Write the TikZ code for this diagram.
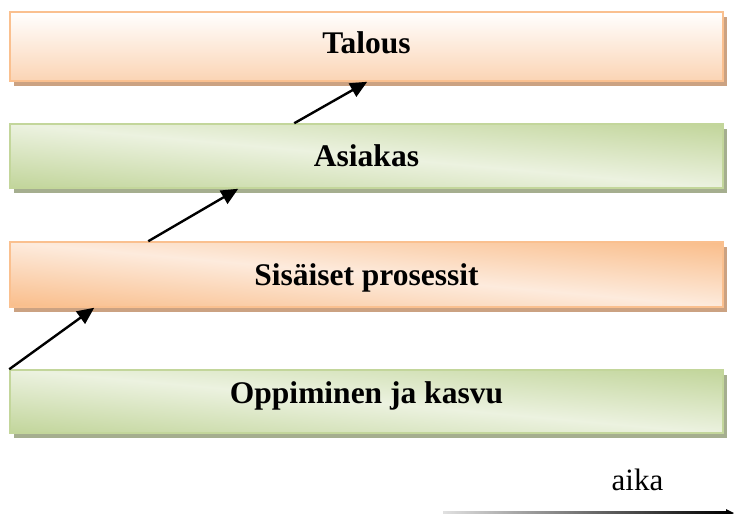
\documentclass[tikz,border=0pt]{standalone}
\usepackage{fontspec}
\setmainfont{Liberation Serif}
\usetikzlibrary{calc,arrows.meta,shadows}

% Palette
\definecolor{peachEdge}{HTML}{FAC08F}
\definecolor{peachDark}{HTML}{F9BC88}
\definecolor{peachLight}{HTML}{FDEBDD}
\definecolor{peachSoft}{HTML}{FBD4B4}
\definecolor{peachShadow}{HTML}{CBA282}
\definecolor{leafEdge}{HTML}{C3D69B}
\definecolor{leafDark}{HTML}{C0D498}
\definecolor{leafLight}{HTML}{ECF2E0}
\definecolor{leafShadow}{HTML}{A5AE8F}

\tikzset{
  layer/.style={draw, line width=1.5pt, minimum width=713pt, inner sep=0pt},
  peachbox/.style={layer, draw=peachEdge,
    drop shadow={shadow xshift=4pt, shadow yshift=-5pt, fill=peachShadow, opacity=1}},
  leafbox/.style={layer, draw=leafEdge,
    drop shadow={shadow xshift=4pt, shadow yshift=-5pt, fill=leafShadow, opacity=1}},
  % light streak running from the upper left corner to the lower right corner
  band/.style 2 args={path picture={
    \begin{scope}[transform canvas={rotate around={-5.2:(path picture bounding box.center)}}]
      \shade[top color=#1, bottom color=#1, middle color=#2]
        ($(path picture bounding box.center)+(-430,-66)$) rectangle
        ($(path picture bounding box.center)+(430,66)$);
    \end{scope}}},
  peachband/.style={peachbox, band={peachDark}{peachLight}},
  leafband/.style={leafbox, band={leafDark}{leafLight}},
  lbl/.style={anchor=base, font=\fontsize{31.5}{36}\selectfont\bfseries},
  step arrow/.style={line width=2.4pt, -{Triangle[length=17pt,width=15pt]}},
}

\begin{document}
\begin{tikzpicture}[x=1pt,y=-1pt]
  \useasboundingbox (0,0) rectangle (734,514);

  % The four perspective layers, bottom to top
  \node[peachbox, top color=white, bottom color=peachSoft, minimum height=69pt]
    (tal) at (366.5,46.5) {};
  \node[leafband, minimum height=64pt] (asi) at (366.5,156) {};
  \node[peachband, minimum height=65pt] (sis) at (366.5,274.5) {};
  \node[leafband, minimum height=63pt] (opp) at (366.5,401.5) {};

  \node[lbl] (tTal) at (366.5,53) {Talous};
  \node[lbl] (tAsi) at (366.5,166) {Asiakas};
  \node[lbl] (tSis) at (366.5,285) {Sisäiset prosessit};
  \node[lbl] (tOpp) at (366.5,403) {Oppiminen ja kasvu};

  % Cause-and-effect steps between the layers
  \coordinate (s1a) at (opp.north west);
  \coordinate (s1b) at ($(sis.south west)+(85,0)$);
  \coordinate (s2a) at ($(sis.north west)+(139,0)$);
  \coordinate (s2b) at ($(asi.south west)+(229,0)$);
  \coordinate (s3a) at ($(asi.north west)+(285,0)$);
  \coordinate (s3b) at ($(tal.south west)+(358,0)$);
  \draw[step arrow] (s1a) -- (s1b);
  \draw[step arrow] (s2a) -- (s2b);
  \draw[step arrow] (s3a) -- (s3b);

  % Time axis
  \node[anchor=base, font=\fontsize{31}{36}\selectfont] (aika) at (637.5,490) {aika};
  \coordinate (t0) at (443,513);
  \coordinate (t1) at (734,513);
  \shade[left color=black!12, right color=black]
    ($(t0)+(0,-1.1)$) rectangle ($(t1)+(-6,1.1)$);
  \fill (t1) -- ($(t1)+(-8,-4)$) -- ($(t1)+(-8,4)$) -- cycle;
\end{tikzpicture}
\end{document}
